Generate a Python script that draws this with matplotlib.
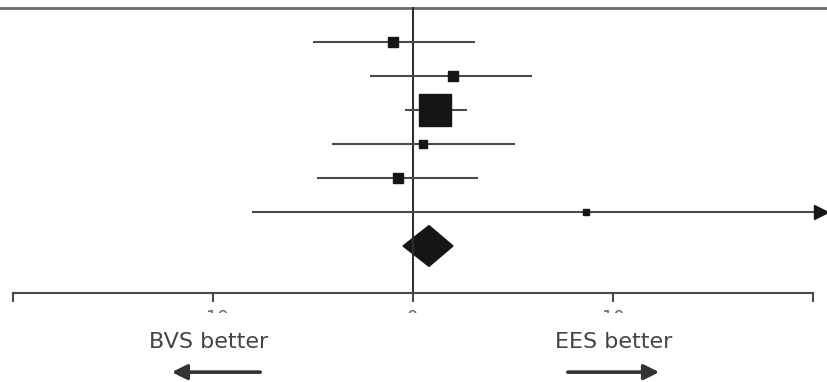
import numpy as np
import matplotlib
matplotlib.use("Agg")
import matplotlib.pyplot as plt
from matplotlib.patches import Polygon
from matplotlib.transforms import Bbox

# study estimates (difference, 95% CI) and weights (%)
estimates = [-1.0, 2.0, 1.1, 0.5, -0.75, 8.65]
ci_low = [-5.0, -2.15, -0.4, -4.05, -4.8, -8.05]
ci_high = [3.1, 5.95, 2.7, 5.1, 3.25, 25.0]
weights = [8.5, 7.0, 72.0, 4.5, 8.0, 2.0]

# pooled estimate
pooled = 0.8
pooled_low = -0.5
pooled_high = 2.0

tick_values = [-20, -10, 0, 10, 20]
tick_labels = ["", "–10", "0", "10", ""]

ink = "#2b2b2b"
line_col = "#4a4a4a"

fig = plt.figure(figsize=(8.27, 3.82), dpi=100)
ax = fig.add_axes([0, 0, 1, 1])
ax.set_xlim(-20.65, 20.7)
ax.set_ylim(11.0, -0.235)
ax.axis("off")

# header rule and line of no effect
ax.axhline(0, color="#6a6a6a", lw=2)
ax.plot([0, 0], [0, 8.62], color=ink, lw=1.4)

rows = np.arange(1, len(estimates) + 1)
xmax = ax.get_xlim()[1]
for r, est, lo, hi, w in zip(rows, estimates, ci_low, ci_high, weights):
    ax.plot([lo, min(hi, xmax)], [r, r], color=line_col, lw=1.5, solid_capstyle="butt")
    size = 23 * np.sqrt(w / 72.0)
    ax.plot(est, r, marker="s", ms=size, color="#151515", mec="#151515")
    if hi > xmax:
        ax.plot(xmax - 0.3, r, marker=">", ms=10, color="#151515")

# pooled diamond
py = len(estimates) + 1
ax.add_patch(Polygon([[pooled_low, py], [pooled, py - 0.6],
                      [pooled_high, py], [pooled, py + 0.6]],
                     closed=True, color="#151515"))

# x axis
axis_y = 8.38
ax.plot([tick_values[0], tick_values[-1]], [axis_y, axis_y], color=line_col, lw=1.5)
for tv in tick_values:
    ax.plot([tv, tv], [axis_y, axis_y + 0.24], color=line_col, lw=1.5)

# tick labels, cut off just below their tops
clip = Bbox.from_extents(0, 382 - 313, 827, 382)
for tv, lab in zip(tick_values, tick_labels):
    t = ax.text(tv, 8.86, lab, ha="center", va="top", fontsize=13,
                color="#666666")
    t.set_clip_box(clip)
    t.set_clip_on(True)

# direction labels
ax.text(-10.2, 9.83, "BVS better", ha="center", va="center", fontsize=16,
        color="#444444")
ax.text(10.05, 9.83, "EES better", ha="center", va="center", fontsize=16,
        color="#444444")
arrow_style = dict(arrowstyle="-|>,head_length=0.9,head_width=0.45",
                   color="#333333", lw=2.6)
ax.annotate("", xy=(-12.2, 10.71), xytext=(-7.5, 10.71), arrowprops=arrow_style)
ax.annotate("", xy=(12.45, 10.71), xytext=(7.6, 10.71), arrowprops=arrow_style)

fig.savefig("out.png", dpi=100, facecolor="white")
